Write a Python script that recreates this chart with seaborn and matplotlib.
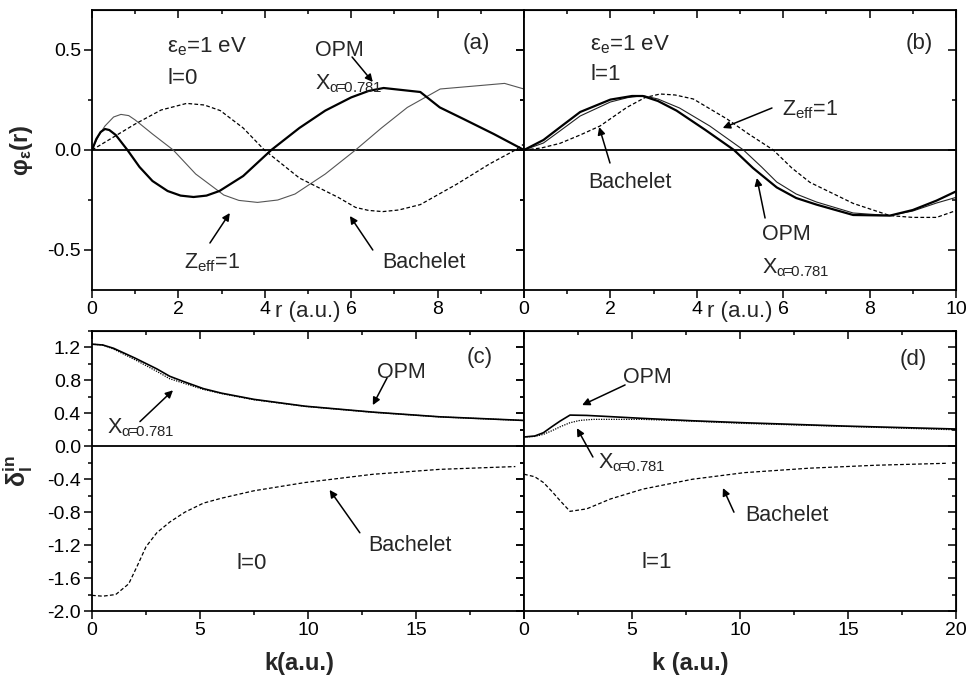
import matplotlib
matplotlib.use("Agg")
import matplotlib.pyplot as plt
import seaborn as sns
import numpy as np
from matplotlib.ticker import MultipleLocator, FixedLocator

# ---------------- data ----------------
# Panel (a): l=0 wave functions
r_a_opm = [0, 0.1, 0.2, 0.3, 0.4, 0.55, 0.82, 1.1, 1.4, 1.75, 2.05, 2.35, 2.65, 2.95, 3.5, 4.15,
           4.8, 5.4, 6.0, 6.4, 6.75, 7.6, 8.05, 8.6, 9.3, 10.0]
y_a_opm = [0, 0.055, 0.09, 0.105, 0.1, 0.075, 0.0, -0.085, -0.155, -0.205, -0.228, -0.235, -0.228,
           -0.205, -0.13, 0.0, 0.11, 0.197, 0.263, 0.295, 0.31, 0.29, 0.213, 0.155, 0.08, 0.0]
r_a_zeff = [0, 0.15, 0.3, 0.5, 0.67, 0.85, 1.0, 1.4, 1.88, 2.4, 3.05, 3.4, 3.83, 4.3, 4.7, 5.4,
            6.1, 6.7, 7.3, 8.06, 8.7, 9.55, 10.0]
y_a_zeff = [0, 0.07, 0.12, 0.165, 0.178, 0.172, 0.15, 0.08, 0.0, -0.12, -0.225, -0.252, -0.262,
            -0.25, -0.22, -0.12, 0.0, 0.11, 0.213, 0.305, 0.317, 0.333, 0.305]
r_a_bach = [0, 0.5, 1.0, 1.6, 2.19, 2.6, 2.97, 3.5, 3.99, 4.8, 5.7, 6.1, 6.4, 6.73, 7.1, 7.6,
            8.45, 9.2, 9.8, 10.0]
y_a_bach = [0, 0.065, 0.13, 0.2, 0.233, 0.225, 0.197, 0.11, 0.0, -0.14, -0.237, -0.287, -0.302,
            -0.308, -0.3, -0.273, -0.17, -0.07, 0.0, 0.03]

# Panel (b): l=1 wave functions
r_b_opm = [0, 0.45, 0.83, 1.3, 2.0, 2.5, 2.75, 3.1, 3.53, 4.2, 4.86, 5.3, 5.85, 6.3, 6.77, 7.62,
           8.47, 9.0, 9.55, 10.0]
y_b_opm = [0, 0.05, 0.113, 0.19, 0.252, 0.27, 0.27, 0.245, 0.197, 0.1, 0.0, -0.09, -0.187, -0.24,
           -0.273, -0.325, -0.328, -0.3, -0.253, -0.207]
r_b_xa = [0, 0.45, 0.83, 1.3, 2.0, 2.4, 2.76, 3.1, 3.6, 4.3, 5.08, 5.5, 5.85, 6.3, 6.77, 7.62,
          8.47, 9.0, 9.55, 10.0]
y_b_xa = [0, 0.035, 0.095, 0.17, 0.24, 0.262, 0.272, 0.255, 0.21, 0.12, 0.0, -0.085, -0.16, -0.22,
          -0.26, -0.315, -0.328, -0.305, -0.265, -0.237]
r_b_bach = [0, 0.4, 0.83, 1.3, 1.76, 2.38, 2.8, 3.15, 3.5, 3.92, 4.7, 5.2, 5.77, 6.2, 6.62, 7.62,
            8.47, 9.0, 9.55, 10.0]
y_b_bach = [0, 0.01, 0.033, 0.075, 0.12, 0.213, 0.262, 0.28, 0.275, 0.255, 0.155, 0.08, 0.0,
            -0.09, -0.162, -0.267, -0.328, -0.337, -0.337, -0.303]

# Panel (c): l=0 phase shifts
k_c = [0, 0.5, 1.0, 2.0, 3.0, 3.6, 4.2, 5.16, 6.0, 7.5, 9.86, 13, 16.1, 20]
d_c_opm = [1.24, 1.23, 1.19, 1.07, 0.94, 0.85, 0.79, 0.70, 0.645, 0.57, 0.487, 0.415, 0.358, 0.314]
d_c_xa = [1.24, 1.23, 1.18, 1.05, 0.91, 0.82, 0.77, 0.69, 0.64, 0.565, 0.485, 0.413, 0.357, 0.313]
k_c_bach = [0, 0.5, 1.1, 1.7, 2.1, 2.5, 3.0, 3.6, 4.3, 5.16, 6.0, 7.5, 9.86, 13, 16.1, 19.6]
d_c_bach = [-1.81, -1.82, -1.80, -1.67, -1.45, -1.22, -1.05, -0.92, -0.80, -0.69, -0.63, -0.54,
            -0.44, -0.34, -0.28, -0.246]

# Panel (d): l=1 phase shifts
k_d_opm = [0, 0.5, 0.9, 1.3, 1.67, 2.13, 2.9, 4.0, 5.5, 7.8, 10.2, 14.8, 20]
d_d_opm = [0.113, 0.125, 0.165, 0.24, 0.306, 0.379, 0.375, 0.36, 0.339, 0.31, 0.286, 0.246, 0.21]
k_d_xa = [0, 0.5, 0.9, 1.3, 1.7, 2.13, 2.6, 3.2, 5.5, 7.8, 10.2, 14.8, 20]
d_d_xa = [0.113, 0.12, 0.145, 0.19, 0.24, 0.286, 0.315, 0.327, 0.327, 0.305, 0.278, 0.242, 0.2]
k_d_bach = [0, 0.5, 0.9, 1.3, 1.67, 2.13, 2.9, 4.0, 5.5, 7.8, 10.2, 13.2, 16.3, 19.6]
d_d_bach = [-0.339, -0.37, -0.44, -0.55, -0.66, -0.79, -0.76, -0.64, -0.52, -0.40, -0.32, -0.266,
            -0.23, -0.206]

r_ticks = [0, 2, 4, 6, 8, 10]
k_ticks = [0, 5, 10, 15, 20]
phi_ticks = [-0.5, 0.0, 0.5]
delta_ticks = [-2.0, -1.6, -1.2, -0.8, -0.4, 0.0, 0.4, 0.8, 1.2]

# ---------------- style ----------------
sns.set_style("ticks")
plt.rcParams['font.family'] = ['Liberation Sans', 'DejaVu Sans']
plt.rcParams['mathtext.fontset'] = 'custom'
plt.rcParams['mathtext.rm'] = 'Liberation Sans'
plt.rcParams['mathtext.it'] = 'Liberation Sans:italic'
plt.rcParams['mathtext.bf'] = 'Liberation Sans:bold'
plt.rcParams['axes.edgecolor'] = 'black'
plt.rcParams['xtick.color'] = 'black'
plt.rcParams['ytick.color'] = 'black'

W, H = 967, 679
fig = plt.figure(figsize=(W / 100, H / 100), dpi=100)


def axpos(x0, y0, x1, y1):
    return [x0 / W, 1 - y1 / H, (x1 - x0) / W, (y1 - y0) / H]


ax_a = fig.add_axes(axpos(92, 10, 524, 290))
ax_b = fig.add_axes(axpos(524, 10, 956, 290))
ax_c = fig.add_axes(axpos(92, 331, 524, 611))
ax_d = fig.add_axes(axpos(524, 331, 956, 611))

TICK_FS = 14
ANN_FS = 15.5
BIG_FS = 16
XA = r'X$_{\mathrm{\alpha}\!\!=\!\!\mathrm{0.781}}$'


def style_axes(ax, xlim, xticks, xminor, xlabels, ylim, yticks, yminor, ylabels):
    ax.set_xlim(*xlim)
    ax.set_ylim(*ylim)
    ax.xaxis.set_minor_locator(MultipleLocator(xminor))
    ax.yaxis.set_minor_locator(MultipleLocator(yminor))
    ax.set_xticks(xticks, labels=xlabels)
    if ylabels is None:
        ax.set_yticks(yticks, labels=[''] * len(yticks))
    else:
        ax.set_yticks(yticks, labels=ylabels)
    for sp in ax.spines.values():
        sp.set_visible(True)
        sp.set_linewidth(1.3)
        sp.set_color('black')
    ax.tick_params(which='both', direction='out', top=False, right=False,
                   width=1.1, labelsize=TICK_FS, pad=2.5)
    ax.tick_params(which='major', length=5.5)
    ax.tick_params(which='minor', length=2.8)
    # mirrored inward ticks on top and right
    sx = ax.secondary_xaxis('top')
    sx.xaxis.set_major_locator(FixedLocator(xticks))
    sx.xaxis.set_minor_locator(MultipleLocator(xminor))
    sx.tick_params(which='both', direction='in', labeltop=False, width=1.1)
    sx.tick_params(which='major', length=5.5)
    sx.tick_params(which='minor', length=2.8)
    sy = ax.secondary_yaxis('right')
    sy.yaxis.set_major_locator(FixedLocator(yticks))
    sy.yaxis.set_minor_locator(MultipleLocator(yminor))
    sy.tick_params(which='both', direction='in', labelright=False, width=1.1)
    sy.tick_params(which='major', length=5.5)
    sy.tick_params(which='minor', length=2.8)
    ax.axhline(0, color='black', lw=1.3, zorder=1)
    ax.grid(False)


THICK = dict(color='black', lw=1.6)
THIN = dict(color='#555555', lw=0.8)
THIN_B = dict(color='#222222', lw=0.8)
DASH = dict(color='black', lw=0.9, linestyle=(0, (3, 1.8)))
DOT = dict(color='black', lw=0.9, linestyle=(0, (1, 1)))
MED = dict(color='black', lw=1.2)


def line(ax, x, y, kw):
    sns.lineplot(x=x, y=y, ax=ax, sort=False, estimator=None, **kw)


def arrow(ax, tail, tip):
    ax.annotate('', xy=tip, xytext=tail,
                arrowprops=dict(arrowstyle='-|>', color='black', lw=1.1,
                                mutation_scale=11, shrinkA=0, shrinkB=0))


def txt(ax, x, y, s, fs=ANN_FS, ha='left'):
    ax.text(x, y, s, fontsize=fs, va='center', ha=ha)


# ---------- (a) ----------
line(ax_a, r_a_zeff, y_a_zeff, THIN)
line(ax_a, r_a_bach, y_a_bach, DASH)
line(ax_a, r_a_opm, y_a_opm, THICK)
style_axes(ax_a, (0, 10), r_ticks, 1, ['0', '2', '4', '6', '8', ''],
           (-0.7, 0.7), phi_ticks, 0.25, ['-0.5', '0.0', '0.5'])
ax_a.set_ylabel('φ$_{\\mathbf{ε}}$(r)', fontsize=17, fontweight='bold')
ax_a.yaxis.set_label_coords(-0.132, 0.5)
ax_a.set_xlabel('r (a.u.)', fontsize=16)
ax_a.xaxis.set_label_coords(0.5, -0.078)
ax_a.xaxis.label.set_va('center')
txt(ax_a, 1.74, 0.515, 'ε$_{\\rm e}$=1 eV', BIG_FS)
txt(ax_a, 1.74, 0.36, 'l=0', BIG_FS)
txt(ax_a, 5.16, 0.5, 'OPM')
txt(ax_a, 5.16, 0.33, XA)
txt(ax_a, 8.9, 0.535, '(a)', BIG_FS, 'center')
txt(ax_a, 2.13, -0.565, r'Z$_{\rm eff}$=1')
txt(ax_a, 6.71, -0.56, 'Bachelet')
arrow(ax_a, (6.02, 0.465), (6.5, 0.34))
arrow(ax_a, (2.73, -0.465), (3.19, -0.315))
arrow(ax_a, (6.5, -0.5), (5.97, -0.33))

# ---------- (b) ----------
line(ax_b, r_b_bach, y_b_bach, DASH)
line(ax_b, r_b_xa, y_b_xa, THIN_B)
line(ax_b, r_b_opm, y_b_opm, THICK)
style_axes(ax_b, (0, 10), r_ticks, 1, ['0', '2', '4', '6', '8', '10'],
           (-0.7, 0.7), phi_ticks, 0.25, None)
ax_b.set_xlabel('r (a.u.)', fontsize=16)
ax_b.xaxis.set_label_coords(0.5, -0.078)
ax_b.xaxis.label.set_va('center')
txt(ax_b, 1.53, 0.525, 'ε$_{\\rm e}$=1 eV', BIG_FS)
txt(ax_b, 1.53, 0.375, 'l=1', BIG_FS)
txt(ax_b, 9.14, 0.535, '(b)', BIG_FS, 'center')
txt(ax_b, 5.97, 0.2, r'Z$_{\rm eff}$=1')
txt(ax_b, 1.48, -0.165, 'Bachelet')
txt(ax_b, 5.5, -0.425, 'OPM')
txt(ax_b, 5.5, -0.59, XA)
arrow(ax_b, (5.74, 0.21), (4.6, 0.11))
arrow(ax_b, (1.99, -0.065), (1.74, 0.115))
arrow(ax_b, (5.58, -0.34), (5.39, -0.14))

# ---------- (c) ----------
line(ax_c, k_c_bach, d_c_bach, DASH)
line(ax_c, k_c, d_c_xa, DOT)
line(ax_c, k_c, d_c_opm, MED)
style_axes(ax_c, (0, 20), k_ticks, 2.5, ['0', '5', '10', '15', ''],
           (-2.0, 1.4), delta_ticks, 0.2, [f'{v:.1f}' for v in delta_ticks])
ax_c.set_ylabel(r'δ$_{\mathbf{l}}^{\mathbf{in}}$', fontsize=18, fontweight='bold')
ax_c.yaxis.set_label_coords(-0.132, 0.5)
ax_c.set_xlabel('k(a.u.)', fontsize=17, fontweight='bold')
ax_c.xaxis.set_label_coords(0.48, -0.186)
ax_c.xaxis.label.set_va('center')
txt(ax_c, 13.2, 0.9, 'OPM')
txt(ax_c, 17.96, 1.08, '(c)', BIG_FS, 'center')
txt(ax_c, 0.7, 0.22, XA)
txt(ax_c, 12.8, -1.2, 'Bachelet')
txt(ax_c, 6.7, -1.42, 'l=0', BIG_FS)
arrow(ax_c, (13.66, 0.83), (13.0, 0.50))
arrow(ax_c, (2.22, 0.30), (3.75, 0.68))
arrow(ax_c, (12.4, -1.05), (11.0, -0.53))

# ---------- (d) ----------
line(ax_d, k_d_bach, d_d_bach, DASH)
line(ax_d, k_d_xa, d_d_xa, DOT)
line(ax_d, k_d_opm, d_d_opm, MED)
style_axes(ax_d, (0, 20), k_ticks, 2.5, ['0', '5', '10', '15', '20'],
           (-2.0, 1.4), delta_ticks, 0.2, None)
ax_d.set_xlabel('k (a.u.)', fontsize=17, fontweight='bold')
ax_d.xaxis.set_label_coords(0.384, -0.186)
ax_d.xaxis.label.set_va('center')
txt(ax_d, 4.58, 0.83, 'OPM')
txt(ax_d, 18.0, 1.05, '(d)', BIG_FS, 'center')
txt(ax_d, 3.43, -0.20, XA)
txt(ax_d, 10.23, -0.835, 'Bachelet')
txt(ax_d, 5.46, -1.405, 'l=1', BIG_FS)
arrow(ax_d, (4.68, 0.745), (2.69, 0.50))
arrow(ax_d, (3.19, -0.13), (2.45, 0.22))
arrow(ax_d, (9.72, -0.80), (9.21, -0.507))

fig.savefig('out.png', dpi=100)
